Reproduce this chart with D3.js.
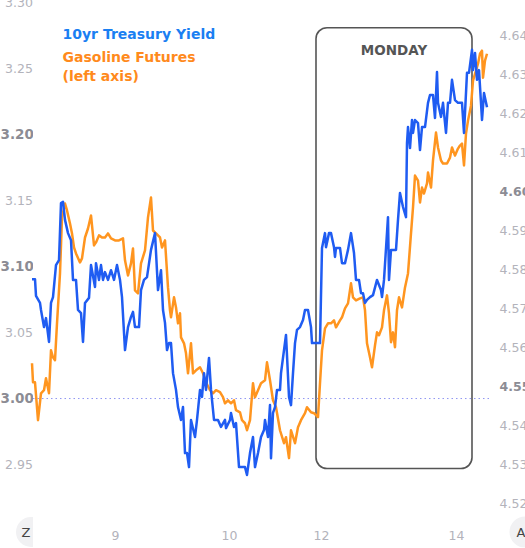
<!DOCTYPE html>
<html><head><meta charset="utf-8">
<script src="https://cdn.jsdelivr.net/npm/d3@7"></script>
<style>body{margin:0;background:#fff}svg{display:block}</style>
</head><body>
<svg id="c" width="525" height="548"></svg>
<script>
// Gasoline futures (left axis): time index and value
const orangeT = [0,1,3,6,9,12,14,17,19,21,23,25,28,30,33,35,38,40,42,44,48,50,53,56,59,62,64,67,70,73,76,79,83,87,91,93,96,99,101,103,106,109,113,116,119,121,124,128,130,133,136,138,139,142,144,146,148,149,152,154,156,159,161,164,168,171,174,178,181,184,188,191,193,196,199,202,204,208,210,213,215,218,221,223,226,229,233,235,238,241,244,248,252,254,257,259,263,266,269,273,275,279,282,286,288,290,293,296,299,302,304,308,310,313,316,319,321,324,328,331,333,335,338,340,343,345,347,350,352,355,357,359,361,363,365,367,370,373,376,379,381,383,386,388,390,392,395,396,399,401,404,406,409,411,415,418,420,423,426,428,430,432,434,436,439,441,444,446,448,450,451,453,455];
const orangeV = [3.0267,3.0123,3.0123,2.9836,3.0040,3.0063,3.0153,3.0040,3.0365,3.0312,3.0290,3.0569,3.0947,3.1371,3.1476,3.1424,3.1325,3.1250,3.1144,3.1098,3.1030,3.1061,3.1219,3.1287,3.1386,3.1159,3.1182,3.1235,3.1219,3.1219,3.1250,3.1212,3.1197,3.1197,3.1212,3.1046,3.0932,3.1023,3.1136,3.0819,3.0796,3.1023,3.1121,3.1371,3.1522,3.1272,3.1250,3.1219,3.1144,3.1197,3.0841,3.0668,3.0615,3.0766,3.0690,3.0569,3.0645,3.0463,3.0418,3.0342,3.0191,3.0418,3.0191,3.0214,3.0237,3.0191,3.0123,3.0063,3.0040,3.0063,3.0048,3.0010,2.9964,2.9987,2.9964,2.9987,2.9912,2.9896,2.9836,2.9813,2.9760,2.9836,3.0116,3.0010,3.0063,3.0116,3.0138,3.0274,3.0138,2.9987,2.9934,2.9760,2.9662,2.9707,2.9549,2.9760,2.9662,2.9783,2.9836,2.9889,2.9934,2.9896,2.9889,2.9859,3.0116,3.0365,3.0531,3.0569,3.0569,3.0592,3.0539,3.0592,3.0615,3.0683,3.0720,3.0872,3.0766,3.0743,3.0758,3.0766,3.0668,3.0418,3.0312,3.0237,3.0403,3.0501,3.0479,3.0539,3.0668,3.0781,3.0645,3.0426,3.0501,3.0388,3.0668,3.0766,3.0690,3.0841,3.0947,3.1250,3.1446,3.1688,3.1650,3.1484,3.1597,3.1552,3.1628,3.1711,3.1597,3.1802,3.2013,3.1900,3.1802,3.1779,3.1779,3.1824,3.1900,3.1839,3.1892,3.1915,3.1930,3.1764,3.2006,3.2104,3.2217,3.2406,3.2482,3.2535,3.2610,3.2633,3.2429,3.2558,3.2610];

// 10yr Treasury yield (right axis): time index and value
const blueT = [0,3,4,8,9,12,14,17,19,21,24,27,29,31,33,36,39,41,44,46,49,51,53,57,59,63,64,67,69,71,73,76,79,82,85,88,90,93,96,99,101,103,107,109,112,115,119,123,126,129,131,133,135,137,139,141,144,146,149,151,153,155,157,159,163,165,168,170,172,174,177,179,182,186,189,193,194,198,199,202,204,207,210,213,215,218,221,223,226,229,232,233,236,238,239,241,243,245,248,249,252,254,257,259,261,263,265,268,271,273,276,279,280,284,288,290,293,294,297,299,302,303,304,308,310,313,316,319,322,324,327,329,331,333,335,338,341,345,349,350,352,356,357,359,361,364,366,368,371,374,375,376,378,380,381,383,386,388,390,393,396,398,401,403,405,406,409,411,414,416,418,420,423,426,430,432,435,437,440,441,443,445,447,449,450,452,455];
const blueV = [4.5774,4.5774,4.5731,4.5713,4.5695,4.5651,4.5674,4.5613,4.5713,4.5728,4.5810,4.5823,4.5969,4.5972,4.5926,4.5892,4.5874,4.5772,4.5772,4.5695,4.5687,4.5613,4.5713,4.5726,4.5810,4.5754,4.5815,4.5772,4.5810,4.5772,4.5792,4.5772,4.5797,4.5772,4.5810,4.5772,4.5728,4.5592,4.5651,4.5677,4.5690,4.5651,4.5651,4.5746,4.5772,4.5779,4.5849,4.5892,4.5746,4.5797,4.5695,4.5662,4.5592,4.5610,4.5610,4.5533,4.5490,4.5446,4.5413,4.5446,4.5328,4.5328,4.5292,4.5413,4.5369,4.5413,4.5490,4.5472,4.5533,4.5490,4.5572,4.5490,4.5413,4.5413,4.5395,4.5413,4.5392,4.5413,4.5431,4.5395,4.5405,4.5292,4.5292,4.5292,4.5272,4.5328,4.5369,4.5292,4.5328,4.5369,4.5387,4.5413,4.5369,4.5451,4.5315,4.5431,4.5446,4.5490,4.5490,4.5533,4.5592,4.5631,4.5472,4.5451,4.5533,4.5610,4.5644,4.5651,4.5669,4.5695,4.5695,4.5651,4.5610,4.5610,4.5610,4.5854,4.5892,4.5856,4.5892,4.5892,4.5856,4.5831,4.5854,4.5854,4.5815,4.5815,4.5849,4.5892,4.5841,4.5772,4.5772,4.5738,4.5738,4.5713,4.5721,4.5728,4.5733,4.5772,4.5746,4.5728,4.5772,4.5933,4.5772,4.5849,4.5849,4.5849,4.5926,4.5995,4.5959,4.5933,4.6123,4.6164,4.6110,4.6182,4.6149,4.6182,4.6174,4.6105,4.6164,4.6164,4.6226,4.6246,4.6246,4.6187,4.6305,4.6226,4.6190,4.6226,4.6149,4.6226,4.6226,4.6285,4.6233,4.6226,4.6226,4.6149,4.6303,4.6303,4.6362,4.6310,4.6354,4.6285,4.6310,4.6226,4.6182,4.6251,4.6215];

const leftTicks = [3.30,3.25,3.20,3.15,3.10,3.05,3.00,2.95];
const leftStrong = [3.20,3.10,3.00];
const rightTicks = [4.64,4.63,4.62,4.61,4.60,4.59,4.58,4.57,4.56,4.55,4.54,4.53,4.52];
const rightStrong = [4.60,4.55];
const xTickVals = [83,197,289,424];
const xTickLabels = ["9","10","12","14"];
const mondayRange = [284,440];       // time index span of the Monday box
const mondayLeftVals = [3.2807,2.947]; // left-axis values for box top/bottom
const refLevel = 3.00;

const svg = d3.select("#c");
const font = "'DejaVu Sans', Verdana, sans-serif";

const x = d3.scaleLinear().domain([0,455]).range([32,487]);
const yL = d3.scaleLinear().domain([2.95,3.30]).range([464.6,2.2]);
const yR = d3.scaleLinear().domain([4.52,4.64]).range([503,35]);
const isIn = (arr, d) => arr.some(s => Math.abs(s - d) < 1e-9);

svg.append("defs").html(
  '<clipPath id="leftclip"><rect x="0" y="0" width="33" height="548"/></clipPath>');

// Monday box
svg.append("rect")
  .attr("x", x(mondayRange[0])).attr("y", yL(mondayLeftVals[0]))
  .attr("width", x(mondayRange[1]) - x(mondayRange[0]))
  .attr("height", yL(mondayLeftVals[1]) - yL(mondayLeftVals[0]))
  .attr("rx", 11).attr("ry", 11)
  .attr("fill", "none").attr("stroke", "#555").attr("stroke-width", 1.6);
svg.append("text")
  .attr("x", (x(mondayRange[0]) + x(mondayRange[1]))/2).attr("y", 55)
  .attr("text-anchor", "middle").attr("font-family", font)
  .attr("font-weight", "bold").attr("font-size", 13.5).attr("fill", "#555")
  .text("MONDAY");

// reference dotted line
svg.append("line")
  .attr("x1", 33).attr("x2", 489).attr("y1", yL(refLevel)).attr("y2", yL(refLevel))
  .attr("stroke", "#8f95f2").attr("stroke-width", 1).attr("stroke-dasharray", "1.5 3");

// lines
const orangeData = orangeT.map((t,i)=>[t, orangeV[i]]);
const blueData = blueT.map((t,i)=>[t, blueV[i]]);
svg.append("path").datum(orangeData)
  .attr("d", d3.line().x(d=>x(d[0])).y(d=>yL(d[1])))
  .attr("fill","none").attr("stroke","#ff951f").attr("stroke-width",2.5)
  .attr("stroke-linejoin","round");
svg.append("path").datum(blueData)
  .attr("d", d3.line().x(d=>x(d[0])).y(d=>yR(d[1])))
  .attr("fill","none").attr("stroke","#1f5cf2").attr("stroke-width",2.5)
  .attr("stroke-linejoin","round");

// left axis (clipped wrapper without transform)
const wrapL = svg.append("g").attr("clip-path","url(#leftclip)");
const gL = wrapL.append("g").attr("transform","translate(5,0)")
  .call(d3.axisRight(yL).tickValues(leftTicks).tickSize(0).tickPadding(0).tickFormat(d3.format(".2f")));
gL.select(".domain").remove();
gL.selectAll("text")
  .attr("font-family", font)
  .attr("font-size", d => isIn(leftStrong, d) ? 13.5 : 12.5)
  .attr("fill", d => isIn(leftStrong, d) ? "#8c8c94" : "#b3b3bb")
  .attr("font-weight", d => isIn(leftStrong, d) ? "bold" : "normal")
  .attr("x", d => isIn(leftStrong, d) ? -4.5 : 0);

// right axis
const gR = svg.append("g").attr("transform","translate(499.5,0)")
  .call(d3.axisRight(yR).tickValues(rightTicks).tickSize(0).tickPadding(0).tickFormat(d3.format(".2f")));
gR.select(".domain").remove();
gR.selectAll("text")
  .attr("font-family", font).attr("font-size", 12.5)
  .attr("fill", d => isIn(rightStrong, d) ? "#8c8c94" : "#b3b3bb")
  .attr("font-weight", d => isIn(rightStrong, d) ? "bold" : "normal");

// bottom axis
const gB = svg.append("g").attr("transform","translate(0,531)")
  .call(d3.axisBottom(x).tickValues(xTickVals).tickSize(0).tickPadding(0)
    .tickFormat((d,i)=>xTickLabels[i]));
gB.select(".domain").remove();
gB.selectAll("text").attr("font-family", font).attr("font-size", 12.5).attr("fill", "#b3b3bb");

// round buttons
const zb = svg.append("g").attr("clip-path","url(#leftclip)");
zb.append("circle").attr("cx",31).attr("cy",532).attr("r",15).attr("fill","#f1f1f3");
svg.append("text").attr("x",26).attr("y",537).attr("text-anchor","middle")
  .attr("font-family",font).attr("font-size",13).attr("fill","#444").text("Z");
svg.append("circle").attr("cx",525).attr("cy",532).attr("r",15.5).attr("fill","#f1f1f3");
svg.append("text").attr("x",521).attr("y",537).attr("text-anchor","middle")
  .attr("font-family",font).attr("font-size",13).attr("fill","#444").text("A");

// legend
const leg = [
  {t:"10yr Treasury Yield", c:"#1a7ff2", y:39},
  {t:"Gasoline Futures", c:"#ff8a1c", y:62},
  {t:"(left axis)", c:"#ff8a1c", y:81}
];
svg.selectAll("text.leg").data(leg).join("text").attr("class","leg")
  .attr("x",62.5).attr("y",d=>d.y).attr("font-family",font)
  .attr("font-weight","bold").attr("font-size",14).attr("fill",d=>d.c).text(d=>d.t);
</script>
</body></html>
